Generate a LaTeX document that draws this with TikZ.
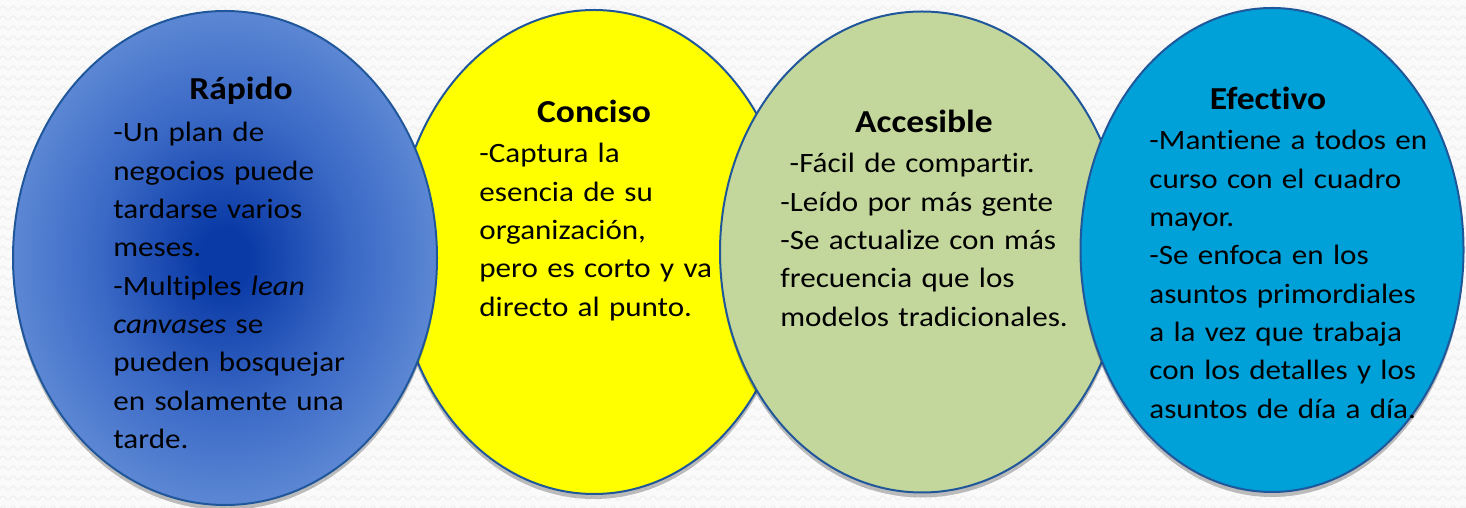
\documentclass[tikz,border=0pt]{standalone}
\usepackage{fontspec}
\setmainfont{Carlito}[FakeStretch=1.11, Ligatures=NoCommon]
\usetikzlibrary{shapes.geometric,shadows,decorations.pathmorphing}

\definecolor{edgeblue}{HTML}{20579A}
\definecolor{rcore}{HTML}{0A3AA6}
\definecolor{rmid}{HTML}{3A69C6}
\definecolor{rrim}{HTML}{6A93DA}
\definecolor{concisofill}{HTML}{FFFF00}
\definecolor{accesfill}{HTML}{C3D69B}
\definecolor{efectfill}{HTML}{00A0D8}
\pgfdeclareradialshading{rapidoshade}{\pgfpoint{0bp}{0bp}}{color(0bp)=(rcore); color(3bp)=(rcore); color(15bp)=(rmid); color(29bp)=(rrim); color(50bp)=(rrim)}

\tikzset{
  bubble/.style={ellipse, draw=edgeblue, line width=1pt, inner sep=0pt,
    drop shadow={shadow xshift=0pt, shadow yshift=-2.5pt, opacity=0.25, fill=black}},
  heading/.style={anchor=base, inner sep=0pt, font=\fontsize{16}{18}\selectfont\bfseries},
  bodytext/.style={anchor=base west, inner sep=0pt, text width=170pt, align=left,
    font=\fontsize{14}{19.15}\selectfont},
  bgwave/.style={draw=black!6, line width=0.6pt, decorate,
    decoration={snake, amplitude=1pt, segment length=5pt}}
}

\begin{document}
\begin{tikzpicture}[x=0.5pt, y=0.5pt]
\useasboundingbox (0,0) rectangle (1466,508);
% background
\fill[white!98!black] (0,0) rectangle (1466,508);
\foreach \r in {0,...,51}
  \draw[bgwave] (-10,\r*10) -- (1476,\r*10);

% the four bubbles
\node[bubble, fill=concisofill, minimum width=198pt, minimum height=242pt] (conciso) at (594,256) {};
\node[bubble, shading=rapidoshade, minimum width=212pt, minimum height=247pt] (rapido) at (225,250) {};
\node[bubble, fill=accesfill, minimum width=202pt, minimum height=240.5pt] (accesible) at (922,256) {};
\node[bubble, fill=efectfill, minimum width=191.5pt, minimum height=242pt] (efectivo) at (1272,258) {};

% texts
\node[heading] (rapido-t) at (241,408) {Rápido};
\node[bodytext] (rapido-b) at (113,366) {-Un plan de\\negocios puede\\tardarse varios\\meses.\\-Multiples \textit{lean}\\\textit{canvases} se\\pueden bosquejar\\en solamente una\\tarde.};

\node[heading] (conciso-t) at (594,385) {Conciso};
\node[bodytext] (conciso-b) at (479,345) {-Captura la\\esencia de su\\organización,\\pero es corto y va\\directo al punto.};

\node[heading] (accesible-t) at (924,375) {Accesible};
\node[bodytext] (accesible-b) at (780,335) {\ -Fácil de compartir.\\-Leído por más gente\\-Se actualize con más\\frecuencia que los\\modelos tradicionales.};

\node[heading] (efectivo-t) at (1268,398) {Efectivo};
\node[bodytext] (efectivo-b) at (1149,358) {-Mantiene a todos en\\curso con el cuadro\\mayor.\\-Se enfoca en los\\asuntos primordiales\\a la vez que trabaja\\con los detalles y los\\asuntos de día a día.};
\end{tikzpicture}
\end{document}
